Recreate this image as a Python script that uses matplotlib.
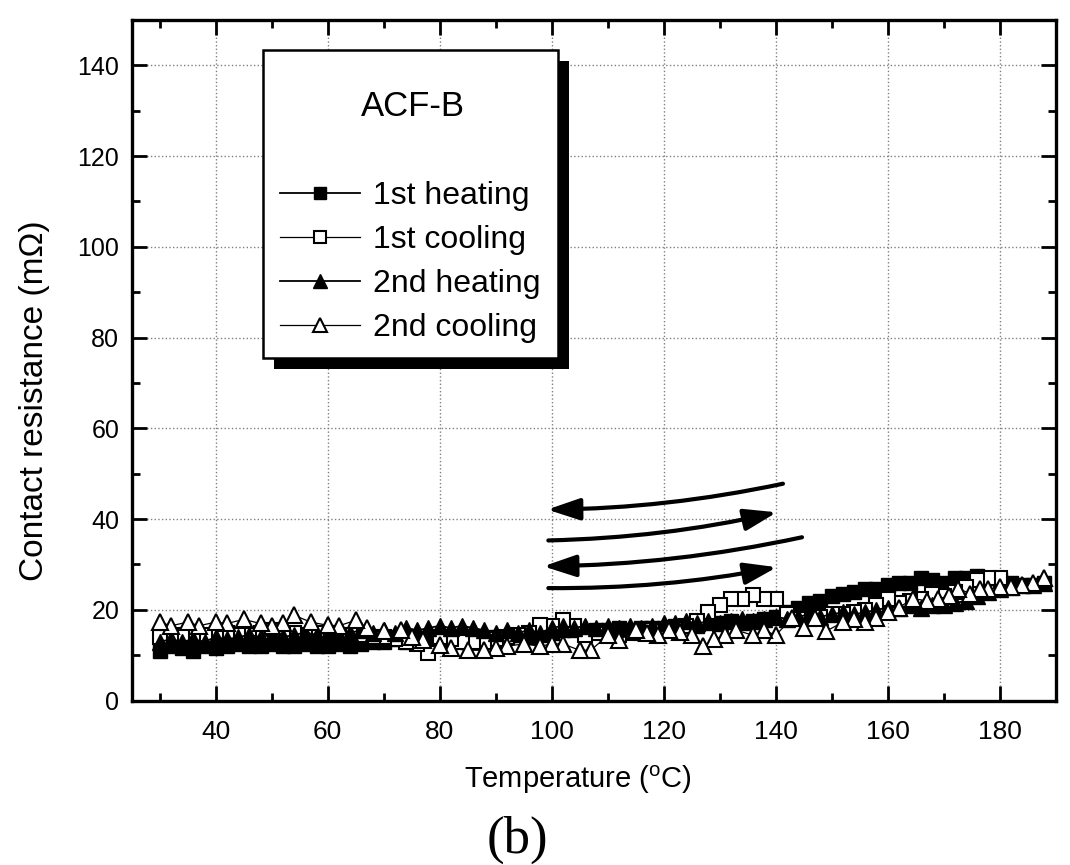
import numpy as np
import matplotlib
matplotlib.use("Agg")
import matplotlib.pyplot as plt
import matplotlib.patheffects as pe
from matplotlib.patches import Rectangle

plt.rcParams['font.family'] = ['Liberation Sans', 'DejaVu Sans']
plt.rcParams['mathtext.fontset'] = 'custom'
plt.rcParams['mathtext.rm'] = 'Liberation Sans'

# ---- data ----
t_heat1 = [30, 32, 34, 36, 38, 40, 42, 44, 46, 48, 50, 52, 54, 56, 58, 60, 62, 64, 66, 68,
           70, 72, 74, 76, 78, 80, 82, 84, 86, 88, 90, 92, 94, 96, 98, 100, 102, 104, 106, 108,
           110, 112, 114, 116, 118, 120, 122, 124, 126, 128, 130, 132, 134, 136, 138, 140, 142,
           144, 146, 148, 150, 152, 154, 156, 158, 160, 162, 164, 166, 168, 170, 172, 174, 176,
           178, 180, 182, 184, 186, 188]
r_heat1 = [11, 12, 11.5, 11, 12, 11.5, 12, 12.5, 12, 12, 12.5, 12, 12, 12.5, 12, 12, 12.5, 12, 12.5, 13,
           13, 13.5, 13, 13.5, 13, 13.5, 13, 13.5, 14, 13.5, 14, 14, 14.5, 14, 14.5, 15, 15.5, 15.5, 15, 15.5,
           15.5, 16, 15.5, 16, 16, 16, 16.5, 16.5, 16.5, 17, 17, 17.5, 17, 17.5, 18, 18.5, 19.5,
           20.5, 21.5, 22, 23, 23.5, 24, 24.5, 24.5, 25.5, 26, 26, 27, 26.5, 26, 27, 27, 27.5,
           27, 26.5, 26, 25.5, 25.5, 26]

t_cool1 = [180, 178, 176, 174, 172, 170, 168, 166, 164, 162, 160, 158, 156, 154, 152, 150, 148,
           146, 144, 142, 140, 138, 136, 134, 132, 130, 128, 126, 124, 122, 120, 118, 116, 114,
           112, 110, 108, 106, 104, 102, 100, 98, 96, 94, 92, 90, 88, 86, 84, 82, 80, 78, 76, 74,
           72, 70, 68, 66, 64, 62, 60, 58, 56, 54, 52, 50, 48, 46, 44, 42, 40, 38, 36, 34, 32, 30]
r_cool1 = [27, 27, 26.5, 25, 24, 23, 23.5, 22.5, 22, 21.5, 22.5, 21, 20, 19.5, 19, 19, 18.5,
           18, 18, 19, 22.3, 22.3, 23.2, 22.5, 22.3, 21, 19.5, 17.5, 16.5, 16, 15.5, 15.5, 15, 15,
           14.5, 14.5, 15, 14.4, 16.5, 17.7, 16.5, 16.6, 15, 14.5, 14, 13.5, 13, 12.9, 13, 13.5, 14, 10.5, 12.5, 13,
           13.5, 14, 14, 14.5, 14.5, 14.5, 15, 15, 14.5, 15, 15, 15.5, 15, 14.5, 14.5, 15, 14.5, 14.5, 14, 14.5, 14, 14]

t_heat2 = t_heat1
r_heat2 = [13, 13.5, 13, 13.5, 13, 14, 13.5, 14, 14.5, 14, 14.5, 14, 14.5, 15, 14.5, 15, 14.5, 15, 15.5, 15,
           15.5, 15, 16, 15.5, 16, 16.5, 16, 16.5, 16, 15.5, 15, 15.5, 15, 15.5, 15, 16, 16.5, 16, 16.5, 16,
           16.5, 16, 16.5, 16, 16.5, 17, 17, 17.5, 17, 17.5, 17, 17.5, 18, 17.5, 18, 18.5, 18,
           18.5, 19, 18.5, 19, 19.5, 19, 19.5, 20, 20.5, 20.5, 21, 20.5, 21, 21, 21.5, 22, 23,
           24, 24.5, 25, 25.5, 25.5, 26]

t_cool2 = [188, 186, 184, 182, 180, 178, 176.5, 174.7, 172.6, 171, 169, 167, 164.5, 162, 160, 158,
           156, 154, 152, 149, 147, 145, 143, 140, 138, 136, 133, 131, 129, 127, 125, 123, 121, 119,
           117, 115, 112, 110, 107, 105, 102, 100, 98, 95, 92, 90, 88, 85, 82, 80, 77, 75, 73, 70,
           67, 65, 62, 60, 57, 54, 52, 50, 48, 45, 42, 40, 37, 35, 32, 30]
r_cool2 = [27, 26, 25.5, 25, 25, 24.5, 24.7, 23.6, 24.7, 23, 22.5, 22, 22.5, 20.5, 19.5, 18.3,
           17.3, 18.1, 17.3, 15.3, 18.3, 16.1, 18.3, 14.4, 15.5, 14.4, 15.5, 14.4, 13.5, 12, 14.5, 15.1, 15.5, 14.4,
           15, 15.5, 13.3, 14.4, 11.1, 11.1, 12.5, 12.5, 12, 12.5, 12, 11.5, 11.1, 11.1, 11.5, 12.2, 13.3, 14, 15.5, 15.3,
           16, 17.7, 16.5, 16.6, 17.3, 18.8, 17, 16.5, 17, 17.9, 17, 17.3, 16.5, 17.3, 16.5, 17.3]

labels = ["1st heating", "1st cooling", "2nd heating", "2nd cooling"]

# arrows: (tail T, tail R, head T, head R, curvature)
arrows = [(141.3, 47.8, 99.2, 42.1, -0.05),
          (99.4, 35.3, 140.2, 41.5, 0.05),
          (144.7, 36.0, 98.5, 29.6, -0.05),
          (99.4, 24.8, 140.2, 29.4, 0.05)]

W, H = 1070, 865
fig = plt.figure(figsize=(W / 100, H / 100), dpi=100)
ax = fig.add_axes([0.1231, 0.19, 0.8635, 0.787])

ax.grid(True, which='major', color='#808080', linestyle=':', linewidth=1.0, zorder=0)
ax.set_axisbelow(True)

l1, = ax.plot(t_heat1, r_heat1, '-', color='k', lw=1.3, marker='s', ms=10,
              mfc='k', mec='k', zorder=3)
l2, = ax.plot(t_cool1, r_cool1, '-', color='k', lw=0.9, marker='s', ms=10,
              mfc='white', mec='k', mew=1.5, zorder=3)
l3, = ax.plot(t_heat2, r_heat2, '-', color='k', lw=1.3, marker='^', ms=11.5,
              mfc='k', mec='k', zorder=3)
l4, = ax.plot(t_cool2, r_cool2, '-', color='k', lw=0.9, marker='^', ms=11.5,
              mfc='white', mec='k', mew=1.5, zorder=3)

for t0, r0, t1, r1, rad in arrows:
    ax.annotate('', xy=(t1, r1), xytext=(t0, r0),
                arrowprops=dict(arrowstyle='-|>,head_length=0.9,head_width=0.3',
                                connectionstyle='arc3,rad=%g' % rad,
                                color='k', lw=3.0, shrinkA=0, shrinkB=0,
                                mutation_scale=22),
                zorder=4)

ax.set_xlim(25, 190)
ax.set_ylim(0, 150)
ax.set_xticks([40, 60, 80, 100, 120, 140, 160, 180])
ax.set_xticks(np.arange(30, 191, 10), minor=True)
ax.set_yticks([0, 20, 40, 60, 80, 100, 120, 140])
ax.set_yticks(np.arange(0, 151, 10), minor=True)
ax.tick_params(which='both', direction='in', top=True, right=True, width=2, colors='k')
ax.tick_params(which='major', length=11)
ax.tick_params(which='minor', length=6)
ax.tick_params(axis='x', labelsize=19, pad=14)
ax.tick_params(axis='y', labelsize=18, pad=9)
for s in ax.spines.values():
    s.set_linewidth(2.4)

ax.set_xlabel(r'Temperature ($^\mathregular{o}$C)', fontsize=21)
ax.xaxis.set_label_coords(0.483, -0.092)
ax.set_ylabel('Contact resistance (m\u03a9)', fontsize=24)
ax.yaxis.set_label_coords(-0.088, 0.44)

# legend box with solid shadow
box = Rectangle((263 / W, 1 - 358 / H), (558 - 263) / W, (358 - 50) / H,
                transform=fig.transFigure, facecolor='white', edgecolor='k',
                linewidth=1.8, zorder=2)
box.set_path_effects([pe.SimplePatchShadow(offset=(8, -8), shadow_rgbFace='k', alpha=1),
                      pe.Normal()])
fig.add_artist(box)
fig.text(413 / W, 1 - 107 / H, 'ACF-B', fontsize=25, ha='center', va='center', zorder=3)

leg = fig.legend([l1, l2, l3, l4], labels, fontsize=23, loc='upper left',
                 bbox_to_anchor=(280 / W, 1 - 181 / H), frameon=False, borderaxespad=0,
                 borderpad=0, handlelength=2.5, handletextpad=0.4, labelspacing=0.44,
                 markerscale=0.85)
leg.set_zorder(3)

fig.text(517 / W, 1 - 840 / H, '(b)', family='Liberation Serif', fontsize=38,
         ha='center', va='center')

fig.savefig('out.png', dpi=100)
